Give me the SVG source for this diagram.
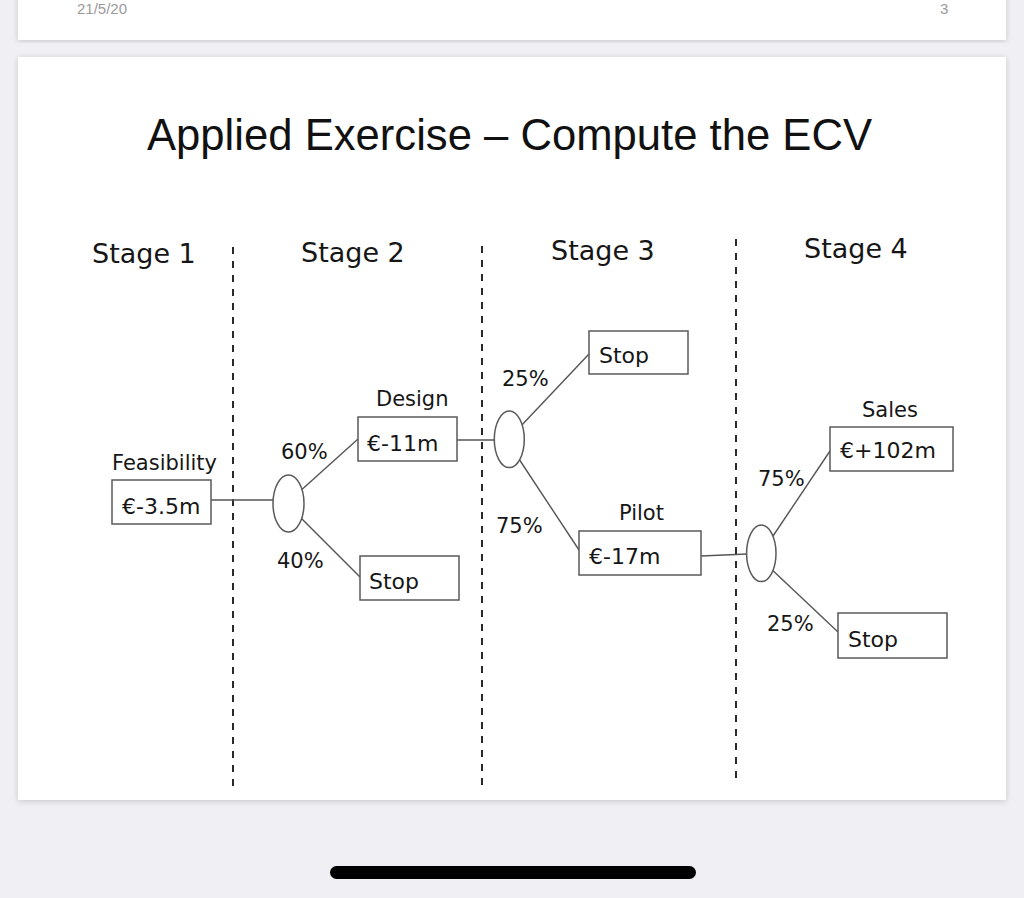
<svg xmlns="http://www.w3.org/2000/svg" width="1024" height="898" viewBox="0 0 1024 898">
<defs>
<filter id="sh" x="-5%" y="-5%" width="110%" height="110%">
<feGaussianBlur in="SourceAlpha" stdDeviation="3"/>
<feOffset dy="1"/>
<feComponentTransfer><feFuncA type="linear" slope="0.18"/></feComponentTransfer>
<feMerge><feMergeNode/><feMergeNode in="SourceGraphic"/></feMerge>
</filter>
<style>
.box{fill:#fff;stroke:#5a5a5a;stroke-width:1.5}
.chance{fill:#fff;stroke:#5a5a5a;stroke-width:1.5}
.edge{fill:none;stroke:#555;stroke-width:1.4}
.div{fill:none;stroke:#2a2a2a;stroke-width:2;stroke-dasharray:7 7}
.lab{font-family:"DejaVu Sans",Verdana,sans-serif;font-size:21px;fill:#161616}
.val{font-family:"DejaVu Sans",Verdana,sans-serif;font-size:22px;fill:#161616}
.stage{font-family:"DejaVu Sans",Verdana,sans-serif;font-size:27px;fill:#161616}
.hdr{font-family:"Liberation Sans",Arial,sans-serif;font-size:15px;fill:#9a9a9a}
</style>
</defs>
<rect x="0" y="0" width="1024" height="898" fill="#efeff4"/>
<rect x="18" y="-10" width="988" height="50" fill="#fff" filter="url(#sh)"/>
<text class="hdr" x="77" y="14">21/5/20</text>
<text class="hdr" x="940" y="14">3</text>
<rect x="18" y="57" width="988" height="743" fill="#fff" filter="url(#sh)"/>
<rect x="330" y="866" width="366" height="13" rx="6.5" fill="#000"/>

<text x="147" y="150" font-family="'Liberation Sans',Arial,sans-serif" font-size="44" fill="#111" textLength="725" lengthAdjust="spacingAndGlyphs">Applied Exercise – Compute the ECV</text>

<g id="stages">
<text class="stage" x="92" y="263">Stage 1</text>
<text class="stage" x="301" y="262">Stage 2</text>
<text class="stage" x="551" y="260">Stage 3</text>
<text class="stage" x="804" y="258">Stage 4</text>
</g>

<g id="dividers">
<line class="div" x1="233" y1="247" x2="233" y2="791"/>
<line class="div" x1="482" y1="246" x2="482" y2="790"/>
<line class="div" x1="736" y1="239" x2="736" y2="784"/>
</g>

<g id="connectors">
<line class="edge" x1="211" y1="500" x2="273" y2="500"/>
<line class="edge" x1="298" y1="493" x2="358" y2="439"/>
<line class="edge" x1="297" y1="514" x2="361" y2="578"/>
<line class="edge" x1="455" y1="440" x2="494" y2="440"/>
<line class="edge" x1="520" y1="427" x2="589" y2="354"/>
<line class="edge" x1="515" y1="453" x2="579" y2="550"/>
<line class="edge" x1="701" y1="556" x2="747" y2="554"/>
<line class="edge" x1="771" y1="539" x2="830" y2="451"/>
<line class="edge" x1="768" y1="566" x2="838" y2="632"/>
</g>

<g id="feasibility">
<text class="lab" x="112" y="470">Feasibility</text>
<rect class="box" x="112" y="480" width="99" height="44"/>
<text class="val" x="122" y="514">€-3.5m</text>
</g>
<g id="chance1"><ellipse class="chance" cx="288.5" cy="503.5" rx="15.5" ry="28.5"/></g>
<g id="p60"><text class="lab" x="281" y="459">60%</text></g>
<g id="p40"><text class="lab" x="277" y="568">40%</text></g>
<g id="design">
<text class="lab" x="376" y="406">Design</text>
<rect class="box" x="358" y="417" width="99" height="44"/>
<text class="val" x="367" y="451">€-11m</text>
</g>
<g id="stop2">
<rect class="box" x="360" y="556" width="99" height="44"/>
<text class="val" x="369" y="589">Stop</text>
</g>
<g id="chance2"><ellipse class="chance" cx="509.3" cy="439.3" rx="15" ry="28.3"/></g>
<g id="p25a"><text class="lab" x="502" y="386">25%</text></g>
<g id="p75a"><text class="lab" x="496" y="533">75%</text></g>
<g id="stop3">
<rect class="box" x="589" y="331" width="99" height="43"/>
<text class="val" x="599" y="363">Stop</text>
</g>
<g id="pilot">
<text class="lab" x="619" y="520">Pilot</text>
<rect class="box" x="579" y="531" width="122" height="44"/>
<text class="val" x="589" y="564">€-17m</text>
</g>
<g id="chance3"><ellipse class="chance" cx="761.3" cy="553.3" rx="14.7" ry="28.3"/></g>
<g id="p75b"><text class="lab" x="758" y="486">75%</text></g>
<g id="p25b"><text class="lab" x="767" y="631">25%</text></g>
<g id="sales">
<text class="lab" x="862" y="417">Sales</text>
<rect class="box" x="830" y="427" width="123" height="44"/>
<text class="val" x="840" y="458">€+102m</text>
</g>
<g id="stop4">
<rect class="box" x="838" y="613" width="109" height="45"/>
<text class="val" x="848" y="647">Stop</text>
</g>
</svg>
